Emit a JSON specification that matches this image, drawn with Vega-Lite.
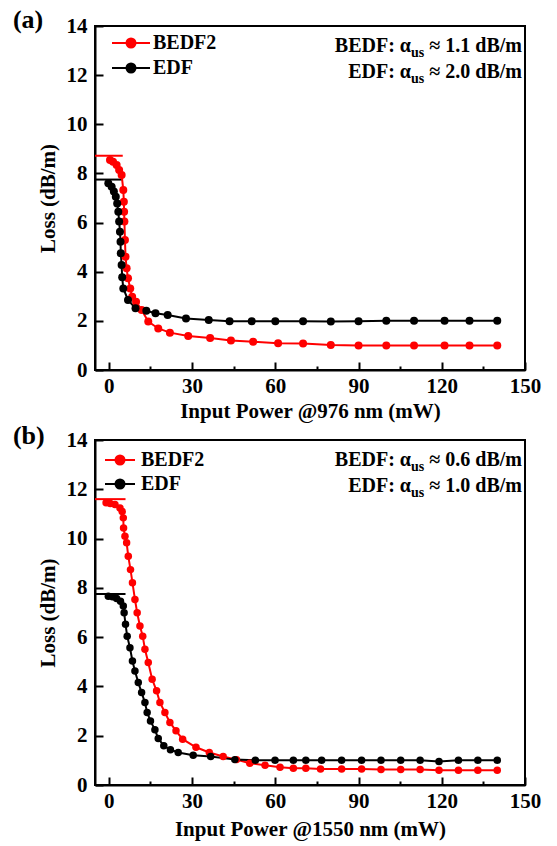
{
  "$schema": "https://vega.github.io/schema/vega-lite/v6.json",
  "background": "white",
  "padding": {"left": 11, "top": 5, "right": 5, "bottom": 2},
  "spacing": -1,
  "resolve": {"scale": {"color": "independent"}, "legend": {"color": "independent"}},
  "config": {
    "view": {"stroke": "black", "strokeWidth": 2},
    "axis": {"grid": false, "domainColor": "black", "domainWidth": 2, "tickColor": "black", "tickWidth": 2,
      "labelFont": "Liberation Serif", "labelFontWeight": "bold", "labelFontSize": 21, "labelColor": "black",
      "titleFont": "Liberation Serif", "titleFontWeight": "bold", "titleFontSize": 21, "titleColor": "black",
      "labelOverlap": false, "labelFlush": false}
  },
  "datasets": {
    "a": [
      {"series": "BEDF2", "power": 0.4, "loss": 8.55}, {"series": "BEDF2", "power": 1.5, "loss": 8.48}, {"series": "BEDF2", "power": 2.8, "loss": 8.34},
      {"series": "BEDF2", "power": 3.7, "loss": 8.14}, {"series": "BEDF2", "power": 4.6, "loss": 7.94}, {"series": "BEDF2", "power": 5.2, "loss": 7.33},
      {"series": "BEDF2", "power": 5.4, "loss": 6.85}, {"series": "BEDF2", "power": 5.5, "loss": 6.44}, {"series": "BEDF2", "power": 5.6, "loss": 6.04},
      {"series": "BEDF2", "power": 5.8, "loss": 5.29}, {"series": "BEDF2", "power": 6.0, "loss": 4.61}, {"series": "BEDF2", "power": 6.4, "loss": 4.14},
      {"series": "BEDF2", "power": 6.9, "loss": 3.73}, {"series": "BEDF2", "power": 7.7, "loss": 3.32}, {"series": "BEDF2", "power": 8.4, "loss": 2.98},
      {"series": "BEDF2", "power": 9.8, "loss": 2.78}, {"series": "BEDF2", "power": 11.8, "loss": 2.44}, {"series": "BEDF2", "power": 14.2, "loss": 1.97},
      {"series": "BEDF2", "power": 17.8, "loss": 1.69}, {"series": "BEDF2", "power": 22.0, "loss": 1.52}, {"series": "BEDF2", "power": 28.6, "loss": 1.38},
      {"series": "BEDF2", "power": 36.5, "loss": 1.3}, {"series": "BEDF2", "power": 44.0, "loss": 1.2}, {"series": "BEDF2", "power": 52.0, "loss": 1.15},
      {"series": "BEDF2", "power": 61.0, "loss": 1.09}, {"series": "BEDF2", "power": 70.0, "loss": 1.08}, {"series": "BEDF2", "power": 80.0, "loss": 1.02},
      {"series": "BEDF2", "power": 90.0, "loss": 1.0}, {"series": "BEDF2", "power": 100.0, "loss": 1.0}, {"series": "BEDF2", "power": 110.0, "loss": 1.0},
      {"series": "BEDF2", "power": 121.0, "loss": 1.0}, {"series": "BEDF2", "power": 130.0, "loss": 1.0}, {"series": "BEDF2", "power": 140.0, "loss": 1.0},
      {"series": "EDF", "power": -0.2, "loss": 7.6}, {"series": "EDF", "power": 1.0, "loss": 7.46}, {"series": "EDF", "power": 1.8, "loss": 7.26},
      {"series": "EDF", "power": 2.5, "loss": 7.05}, {"series": "EDF", "power": 3.0, "loss": 6.78}, {"series": "EDF", "power": 3.4, "loss": 6.44},
      {"series": "EDF", "power": 3.7, "loss": 6.04}, {"series": "EDF", "power": 4.0, "loss": 5.63}, {"series": "EDF", "power": 4.2, "loss": 5.22},
      {"series": "EDF", "power": 4.3, "loss": 4.75}, {"series": "EDF", "power": 4.6, "loss": 4.27}, {"series": "EDF", "power": 4.8, "loss": 3.77},
      {"series": "EDF", "power": 5.2, "loss": 3.32}, {"series": "EDF", "power": 6.9, "loss": 2.85}, {"series": "EDF", "power": 9.6, "loss": 2.51},
      {"series": "EDF", "power": 13.5, "loss": 2.41}, {"series": "EDF", "power": 16.8, "loss": 2.31}, {"series": "EDF", "power": 21.2, "loss": 2.24},
      {"series": "EDF", "power": 27.8, "loss": 2.1}, {"series": "EDF", "power": 36.0, "loss": 2.03}, {"series": "EDF", "power": 43.5, "loss": 1.98},
      {"series": "EDF", "power": 51.5, "loss": 1.98}, {"series": "EDF", "power": 60.0, "loss": 1.98}, {"series": "EDF", "power": 70.0, "loss": 1.98},
      {"series": "EDF", "power": 80.0, "loss": 1.97}, {"series": "EDF", "power": 90.0, "loss": 1.98}, {"series": "EDF", "power": 100.0, "loss": 2.0},
      {"series": "EDF", "power": 110.0, "loss": 2.0}, {"series": "EDF", "power": 121.0, "loss": 2.0}, {"series": "EDF", "power": 130.0, "loss": 2.0},
      {"series": "EDF", "power": 140.0, "loss": 2.0}
    ],
    "b": [
      {"series": "BEDF2", "power": -1.0, "loss": 11.45}, {"series": "BEDF2", "power": 0.5, "loss": 11.42}, {"series": "BEDF2", "power": 2.2, "loss": 11.38},
      {"series": "BEDF2", "power": 4.0, "loss": 11.24}, {"series": "BEDF2", "power": 4.8, "loss": 11.1}, {"series": "BEDF2", "power": 5.2, "loss": 10.84},
      {"series": "BEDF2", "power": 5.3, "loss": 10.43}, {"series": "BEDF2", "power": 5.8, "loss": 10.09}, {"series": "BEDF2", "power": 6.4, "loss": 9.83},
      {"series": "BEDF2", "power": 7.0, "loss": 9.28}, {"series": "BEDF2", "power": 7.8, "loss": 8.74}, {"series": "BEDF2", "power": 8.5, "loss": 8.21},
      {"series": "BEDF2", "power": 9.4, "loss": 7.53}, {"series": "BEDF2", "power": 10.2, "loss": 6.99}, {"series": "BEDF2", "power": 11.2, "loss": 6.45},
      {"series": "BEDF2", "power": 12.2, "loss": 6.04}, {"series": "BEDF2", "power": 13.0, "loss": 5.51}, {"series": "BEDF2", "power": 14.2, "loss": 4.97},
      {"series": "BEDF2", "power": 15.6, "loss": 4.29}, {"series": "BEDF2", "power": 17.2, "loss": 3.82}, {"series": "BEDF2", "power": 18.4, "loss": 3.35},
      {"series": "BEDF2", "power": 20.2, "loss": 2.94}, {"series": "BEDF2", "power": 22.0, "loss": 2.54}, {"series": "BEDF2", "power": 24.2, "loss": 2.2},
      {"series": "BEDF2", "power": 26.6, "loss": 1.86}, {"series": "BEDF2", "power": 31.4, "loss": 1.53}, {"series": "BEDF2", "power": 36.2, "loss": 1.32},
      {"series": "BEDF2", "power": 41.2, "loss": 1.16}, {"series": "BEDF2", "power": 46.0, "loss": 1.03}, {"series": "BEDF2", "power": 50.8, "loss": 0.88},
      {"series": "BEDF2", "power": 56.3, "loss": 0.8}, {"series": "BEDF2", "power": 61.7, "loss": 0.72}, {"series": "BEDF2", "power": 66.5, "loss": 0.68},
      {"series": "BEDF2", "power": 71.0, "loss": 0.68}, {"series": "BEDF2", "power": 76.3, "loss": 0.65}, {"series": "BEDF2", "power": 83.9, "loss": 0.65},
      {"series": "BEDF2", "power": 91.1, "loss": 0.65}, {"series": "BEDF2", "power": 98.1, "loss": 0.63}, {"series": "BEDF2", "power": 105.2, "loss": 0.63},
      {"series": "BEDF2", "power": 112.2, "loss": 0.63}, {"series": "BEDF2", "power": 119.0, "loss": 0.6}, {"series": "BEDF2", "power": 126.0, "loss": 0.6},
      {"series": "BEDF2", "power": 133.0, "loss": 0.6}, {"series": "BEDF2", "power": 140.0, "loss": 0.6},
      {"series": "EDF", "power": -0.2, "loss": 7.66}, {"series": "EDF", "power": 1.3, "loss": 7.64}, {"series": "EDF", "power": 2.8, "loss": 7.57},
      {"series": "EDF", "power": 4.2, "loss": 7.46}, {"series": "EDF", "power": 5.2, "loss": 7.26}, {"series": "EDF", "power": 5.5, "loss": 6.99},
      {"series": "EDF", "power": 6.0, "loss": 6.52}, {"series": "EDF", "power": 6.6, "loss": 6.04}, {"series": "EDF", "power": 7.6, "loss": 5.57},
      {"series": "EDF", "power": 8.5, "loss": 5.03}, {"series": "EDF", "power": 9.4, "loss": 4.63}, {"series": "EDF", "power": 10.6, "loss": 4.16},
      {"series": "EDF", "power": 11.8, "loss": 3.75}, {"series": "EDF", "power": 13.0, "loss": 3.35}, {"series": "EDF", "power": 13.8, "loss": 2.94},
      {"series": "EDF", "power": 15.0, "loss": 2.6}, {"series": "EDF", "power": 16.6, "loss": 2.24}, {"series": "EDF", "power": 17.8, "loss": 1.89},
      {"series": "EDF", "power": 19.8, "loss": 1.59}, {"series": "EDF", "power": 22.2, "loss": 1.43}, {"series": "EDF", "power": 25.0, "loss": 1.32},
      {"series": "EDF", "power": 30.4, "loss": 1.21}, {"series": "EDF", "power": 36.7, "loss": 1.16}, {"series": "EDF", "power": 45.4, "loss": 1.03},
      {"series": "EDF", "power": 52.8, "loss": 1.0}, {"series": "EDF", "power": 59.9, "loss": 1.0}, {"series": "EDF", "power": 66.5, "loss": 1.0},
      {"series": "EDF", "power": 71.0, "loss": 1.0}, {"series": "EDF", "power": 76.7, "loss": 1.0}, {"series": "EDF", "power": 83.9, "loss": 1.0},
      {"series": "EDF", "power": 91.1, "loss": 1.0}, {"series": "EDF", "power": 98.1, "loss": 1.0}, {"series": "EDF", "power": 105.2, "loss": 1.0},
      {"series": "EDF", "power": 112.2, "loss": 1.0}, {"series": "EDF", "power": 119.0, "loss": 0.95}, {"series": "EDF", "power": 126.0, "loss": 1.0},
      {"series": "EDF", "power": 133.0, "loss": 1.0}, {"series": "EDF", "power": 140.0, "loss": 1.0}
    ],
    "levA": [
      {"series": "BEDF2", "from": -5, "to": 5, "loss": 8.72},
      {"series": "EDF", "from": -5, "to": 5, "loss": 7.75}
    ],
    "levB": [
      {"series": "BEDF2", "from": -5, "to": 6, "loss": 11.6},
      {"series": "EDF", "from": -5, "to": 6, "loss": 7.75}
    ],
    "noteA": [{"tag": "(a)", "l1": "BEDF: α", "v1": "≈ 1.1 dB/m", "l2": "EDF: α", "v2": "≈ 2.0 dB/m", "sub": "us"}],
    "noteB": [{"tag": "(b)", "l1": "BEDF: α", "v1": "≈ 0.6 dB/m", "l2": "EDF: α", "v2": "≈ 1.0 dB/m", "sub": "us"}]
  },
  "vconcat": [
    {
      "width": 430, "height": 344,
      "layer": [
        {"data": {"name": "levA"}, "mark": {"type": "rule", "strokeWidth": 2},
          "encoding": {
            "x": {"field": "from", "type": "quantitative", "scale": {"domain": [-5, 150], "nice": false, "zero": false},
              "axis": {"title": "Input Power @976 nm (mW)", "values": [0, 15, 30, 45, 60, 75, 90, 105, 120, 135, 150],
                "labelExpr": "datum.value % 30 === 0 ? datum.label : ''",
                "tickSize": {"condition": {"test": "datum.value % 30 === 0", "value": -8}, "value": -4},
                "labelPadding": 13, "titlePadding": 0}},
            "x2": {"field": "to"},
            "y": {"field": "loss", "type": "quantitative", "scale": {"domain": [0, 14], "nice": false},
              "axis": {"title": "Loss (dB/m)", "values": [0, 1, 2, 3, 4, 5, 6, 7, 8, 9, 10, 11, 12, 13, 14],
                "labelExpr": "datum.value % 2 === 0 ? datum.label : ''",
                "tickSize": {"condition": {"test": "datum.value % 2 === 0", "value": -8}, "value": -4},
                "labelPadding": 16, "titlePadding": 8}},
            "color": {"field": "series", "type": "nominal", "scale": {"domain": ["BEDF2", "EDF"], "range": ["#ff0000", "#000000"]},
              "legend": {"title": null, "orient": "none", "legendX": 26, "legendY": 7, "padding": 0,
                "symbolType": "M-3.8,0H3.8M0.9,0A0.9,0.9,0,1,1,-0.9,0A0.9,0.9,0,1,1,0.9,0Z", "symbolSize": 100, "symbolStrokeWidth": 2,
                "labelFont": "Liberation Serif", "labelFontWeight": "bold", "labelFontSize": 20, "labelColor": "black", "labelOffset": 12, "rowPadding": 5,
                "encode": {"symbols": {"update": {"stroke": {"signal": "datum.value === 'BEDF2' ? '#ff0000' : '#000000'"}, "strokeWidth": {"value": 2}}}}}}}},
        {"data": {"name": "a"}, "mark": {"type": "line", "strokeWidth": 2},
          "encoding": {"x": {"field": "power", "type": "quantitative"}, "y": {"field": "loss", "type": "quantitative"}, "color": {"field": "series", "type": "nominal"}}},
        {"data": {"name": "a"}, "mark": {"type": "point", "filled": true, "opacity": 1, "size": 64, "shape": "circle"},
          "encoding": {"x": {"field": "power", "type": "quantitative"}, "y": {"field": "loss", "type": "quantitative"}, "color": {"field": "series", "type": "nominal"}}},
        {"data": {"name": "noteA"}, "mark": {"type": "text", "align": "left", "baseline": "alphabetic", "font": "Liberation Serif", "fontWeight": "bold", "fontSize": 26, "fill": "black"},
          "encoding": {"x": {"datum": -34.6}, "y": {"datum": 13.92}, "text": {"field": "tag"}}},
        {"data": {"name": "noteA"}, "mark": {"type": "text", "align": "right", "baseline": "alphabetic", "font": "Liberation Serif", "fontWeight": "bold", "fontSize": 20, "fill": "black"},
          "encoding": {"x": {"datum": 108.9}, "y": {"datum": 12.94}, "text": {"field": "l1"}}},
        {"data": {"name": "noteA"}, "mark": {"type": "text", "align": "left", "baseline": "alphabetic", "font": "Liberation Serif", "fontWeight": "bold", "fontSize": 14, "dy": 5, "fill": "black"},
          "encoding": {"x": {"datum": 108.9}, "y": {"datum": 12.94}, "text": {"field": "sub"}}},
        {"data": {"name": "noteA"}, "mark": {"type": "text", "align": "right", "baseline": "alphabetic", "font": "Liberation Serif", "fontWeight": "bold", "fontSize": 20, "fill": "black"},
          "encoding": {"x": {"datum": 148.9}, "y": {"datum": 12.94}, "text": {"field": "v1"}}},
        {"data": {"name": "noteA"}, "mark": {"type": "text", "align": "right", "baseline": "alphabetic", "font": "Liberation Serif", "fontWeight": "bold", "fontSize": 20, "fill": "black"},
          "encoding": {"x": {"datum": 108.9}, "y": {"datum": 11.88}, "text": {"field": "l2"}}},
        {"data": {"name": "noteA"}, "mark": {"type": "text", "align": "left", "baseline": "alphabetic", "font": "Liberation Serif", "fontWeight": "bold", "fontSize": 14, "dy": 5, "fill": "black"},
          "encoding": {"x": {"datum": 108.9}, "y": {"datum": 11.88}, "text": {"field": "sub"}}},
        {"data": {"name": "noteA"}, "mark": {"type": "text", "align": "right", "baseline": "alphabetic", "font": "Liberation Serif", "fontWeight": "bold", "fontSize": 20, "fill": "black"},
          "encoding": {"x": {"datum": 148.9}, "y": {"datum": 11.88}, "text": {"field": "v2"}}}
      ]
    },
    {
      "width": 430, "height": 345,
      "layer": [
        {"data": {"name": "levB"}, "mark": {"type": "rule", "strokeWidth": 2},
          "encoding": {
            "x": {"field": "from", "type": "quantitative", "scale": {"domain": [-5, 150], "nice": false, "zero": false},
              "axis": {"title": "Input Power @1550 nm (mW)", "values": [0, 15, 30, 45, 60, 75, 90, 105, 120, 135, 150],
                "labelExpr": "datum.value % 30 === 0 ? datum.label : ''",
                "tickSize": {"condition": {"test": "datum.value % 30 === 0", "value": -8}, "value": -4},
                "labelPadding": 13, "titlePadding": 3}},
            "x2": {"field": "to"},
            "y": {"field": "loss", "type": "quantitative", "scale": {"domain": [0, 14], "nice": false},
              "axis": {"title": "Loss (dB/m)", "values": [0, 1, 2, 3, 4, 5, 6, 7, 8, 9, 10, 11, 12, 13, 14],
                "labelExpr": "datum.value % 2 === 0 ? datum.label : ''",
                "tickSize": {"condition": {"test": "datum.value % 2 === 0", "value": -8}, "value": -4},
                "labelPadding": 16, "titlePadding": 8}},
            "color": {"field": "series", "type": "nominal", "scale": {"domain": ["BEDF2", "EDF"], "range": ["#ff0000", "#000000"]},
              "legend": {"title": null, "orient": "none", "legendX": 15, "legendY": 10, "padding": 0,
                "symbolType": "M-3,0H3M0.9,0A0.9,0.9,0,1,1,-0.9,0A0.9,0.9,0,1,1,0.9,0Z", "symbolSize": 100, "symbolStrokeWidth": 2,
                "labelFont": "Liberation Serif", "labelFontWeight": "bold", "labelFontSize": 20, "labelColor": "black", "labelOffset": 11, "rowPadding": 4,
                "encode": {"symbols": {"update": {"stroke": {"signal": "datum.value === 'BEDF2' ? '#ff0000' : '#000000'"}, "strokeWidth": {"value": 2}}}}}}}},
        {"data": {"name": "b"}, "mark": {"type": "line", "strokeWidth": 2},
          "encoding": {"x": {"field": "power", "type": "quantitative"}, "y": {"field": "loss", "type": "quantitative"}, "color": {"field": "series", "type": "nominal"}}},
        {"data": {"name": "b"}, "mark": {"type": "point", "filled": true, "opacity": 1, "size": 56, "shape": "circle"},
          "encoding": {"x": {"field": "power", "type": "quantitative"}, "y": {"field": "loss", "type": "quantitative"}, "color": {"field": "series", "type": "nominal"}}},
        {"data": {"name": "noteB"}, "mark": {"type": "text", "align": "left", "baseline": "alphabetic", "font": "Liberation Serif", "fontWeight": "bold", "fontSize": 26, "fill": "black"},
          "encoding": {"x": {"datum": -34.6}, "y": {"datum": 13.84}, "text": {"field": "tag"}}},
        {"data": {"name": "noteB"}, "mark": {"type": "text", "align": "right", "baseline": "alphabetic", "font": "Liberation Serif", "fontWeight": "bold", "fontSize": 20, "fill": "black"},
          "encoding": {"x": {"datum": 108.9}, "y": {"datum": 12.95}, "text": {"field": "l1"}}},
        {"data": {"name": "noteB"}, "mark": {"type": "text", "align": "left", "baseline": "alphabetic", "font": "Liberation Serif", "fontWeight": "bold", "fontSize": 14, "dy": 5, "fill": "black"},
          "encoding": {"x": {"datum": 108.9}, "y": {"datum": 12.95}, "text": {"field": "sub"}}},
        {"data": {"name": "noteB"}, "mark": {"type": "text", "align": "right", "baseline": "alphabetic", "font": "Liberation Serif", "fontWeight": "bold", "fontSize": 20, "fill": "black"},
          "encoding": {"x": {"datum": 148.9}, "y": {"datum": 12.95}, "text": {"field": "v1"}}},
        {"data": {"name": "noteB"}, "mark": {"type": "text", "align": "right", "baseline": "alphabetic", "font": "Liberation Serif", "fontWeight": "bold", "fontSize": 20, "fill": "black"},
          "encoding": {"x": {"datum": 108.9}, "y": {"datum": 11.9}, "text": {"field": "l2"}}},
        {"data": {"name": "noteB"}, "mark": {"type": "text", "align": "left", "baseline": "alphabetic", "font": "Liberation Serif", "fontWeight": "bold", "fontSize": 14, "dy": 5, "fill": "black"},
          "encoding": {"x": {"datum": 108.9}, "y": {"datum": 11.9}, "text": {"field": "sub"}}},
        {"data": {"name": "noteB"}, "mark": {"type": "text", "align": "right", "baseline": "alphabetic", "font": "Liberation Serif", "fontWeight": "bold", "fontSize": 20, "fill": "black"},
          "encoding": {"x": {"datum": 148.9}, "y": {"datum": 11.9}, "text": {"field": "v2"}}}
      ]
    }
  ]
}
